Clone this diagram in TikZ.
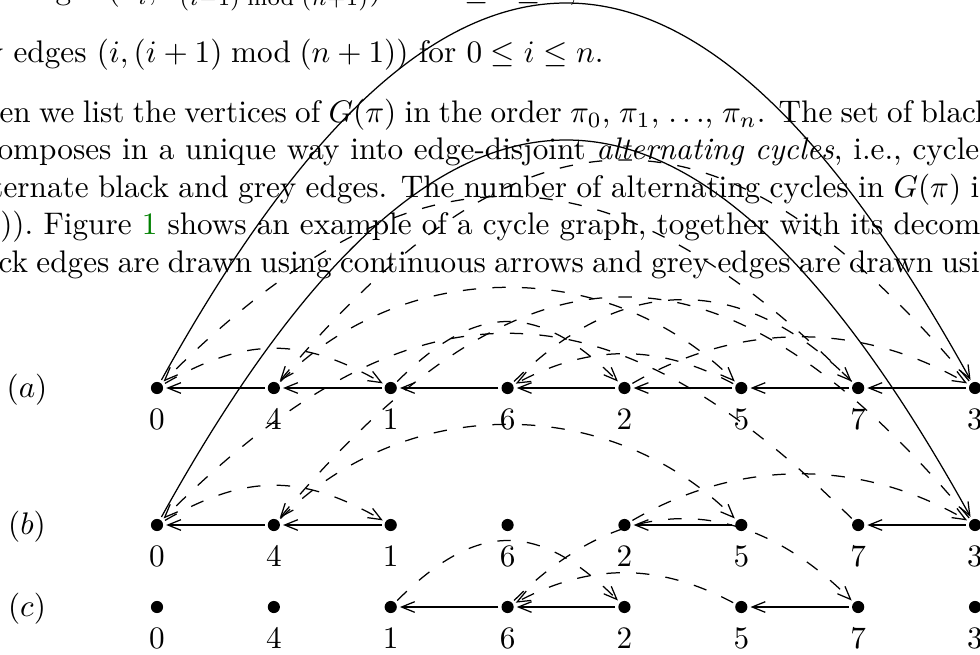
\documentclass[tikz,border=0pt]{standalone}
\usepackage{amsmath}
\usepackage{amssymb}
\usetikzlibrary{arrows.meta}
\newdimen\pxu
\pxu=0.3205pt

\tikzset{
  vtx/.style={circle, fill=black, inner sep=0pt, minimum size=3.9pt, outer sep=1pt},
  vlbl/.style={anchor=base, inner sep=0pt},
  txtline/.style={anchor=base west, inner sep=0pt},
  blackedge/.style={line width=0.4pt, -{Straight Barb[length=4.2pt,width=3.4pt]}},
  greyedge/.style={blackedge, dash pattern=on 4.3pt off 5.2pt},
  % shapes of the arcs (grey edge i -> i+1, black edge 0 -> 3)
  g01/.style={out=30, in=150, looseness=1.1},
  g12/.style={out=45, in=135, looseness=1.31},
  g23/.style={out=30, in=150, looseness=0.95},
  g34/.style={out=130, in=50, looseness=1.43},
  g45/.style={out=45, in=135, looseness=1.0},
  g56/.style={out=152, in=28, looseness=1.0},
  g67/.style={out=45, in=135, looseness=1.17},
  g70/.style={out=135, in=45, looseness=1.30},
  b03/.style={out=61, in=119, looseness=1.82},
}

\begin{document}
\begin{tikzpicture}[x=\pxu, y=-\pxu]

    % ==========================================
    % PAGE AND TEXT
    % ==========================================

    \useasboundingbox (0,0) rectangle (980,654);
    \clip (0,0) rectangle (980,654);

    \node[txtline] (t1) at (55,0) {\llap{black ed}ges $(\pi_i,\pi_{(i-1) \bmod (n+1)})$ for $0 \le i \le n$,};
    \node[txtline] (t2) at (13,63) {\llap{grey }edges $(i,(i+1) \bmod (n+1))$ for $0 \le i \le n$.};
    \node[txtline] (t3) at (-1,123) {\hbox to 921\pxu{\llap{Wh}en we list the vertices of $G(\pi)$ in the order $\pi_0$, $\pi_1$, $\ldots$, $\pi_n$. The set of \rlap{black}}};
    \node[txtline] (t4) at (-3,160) {\hbox to 915\pxu{\llap{dec}omposes in a unique way into edge-disjoint \emph{alternating cycles}, i.e., \rlap{cycles}}};
    \node[txtline] (t5) at (3,197) {\hbox to 967\pxu{\llap{alt}ernate black and grey edges. The number of alternating cycles in $G(\pi)$ \rlap{is}}};
    \node[txtline] (t6) at (43,234) {\hbox to 850\pxu{\llap{$c(G(\pi))$.\ }Figure~{\color{green!50!black}1} shows an example of a cycle graph, together with its \rlap{decomposition}}};
    \node[txtline] (t7) at (-2,272) {\hbox to 943\pxu{\llap{bla}ck edges are drawn using continuous arrows and grey edges are drawn \rlap{using}}};

    % ==========================================
    % VERTICES IN THE ORDER 0 4 1 6 2 5 7 3
    % ==========================================

    \def\xstart{157}
    \def\dx{116.86}

    \foreach \r/\yr in {a/388, b/525, c/607}{
        \foreach \v [count=\k from 0] in {0,4,1,6,2,5,7,3}{
            \node[vtx] (\r\v) at (\xstart+\k*\dx, \yr) {};
            \node[vlbl] (l\r\v) at (\xstart+\k*\dx, \yr+41) {\v};
        }
    }

    \node[vlbl] (ra) at (27,397) {$(a)$};
    \node[vlbl] (rb) at (27,534) {$(b)$};
    \node[vlbl] (rc) at (27,616) {$(c)$};

    % ==========================================
    % (a) THE WHOLE CYCLE GRAPH
    % ==========================================

    \foreach \s/\t in {4/0, 1/4, 6/1, 2/6, 5/2, 7/5, 3/7}
        \draw[blackedge] (a\s) -- (a\t);
    \draw[blackedge] (a0) to[b03] (a3);

    \draw[greyedge] (a0) to[g01] (a1);
    \draw[greyedge] (a1) to[g12] (a2);
    \draw[greyedge] (a2) to[g23] (a3);
    \draw[greyedge] (a3) to[g34] (a4);
    \draw[greyedge] (a4) to[g45] (a5);
    \draw[greyedge] (a5) to[g56] (a6);
    \draw[greyedge] (a6) to[g67] (a7);
    \draw[greyedge] (a7) to[g70] (a0);

    % ==========================================
    % (b) FIRST ALTERNATING CYCLE
    % ==========================================

    \foreach \s/\t in {4/0, 1/4, 5/2, 3/7}
        \draw[blackedge] (b\s) -- (b\t);
    \draw[blackedge] (b0) to[b03] (b3);

    \draw[greyedge] (b0) to[g01] (b1);
    \draw[greyedge] (b2) to[g23] (b3);
    \draw[greyedge] (b3) to[g34] (b4);
    \draw[greyedge] (b4) to[g45] (b5);
    \draw[greyedge] (b7) to[g70] (b0);

    % ==========================================
    % (c) SECOND ALTERNATING CYCLE
    % ==========================================

    \foreach \s/\t in {6/1, 2/6, 7/5}
        \draw[blackedge] (c\s) -- (c\t);

    \draw[greyedge] (c1) to[g12] (c2);
    \draw[greyedge] (c5) to[g56] (c6);
    \draw[greyedge] (c6) to[g67] (c7);

\end{tikzpicture}
\end{document}
